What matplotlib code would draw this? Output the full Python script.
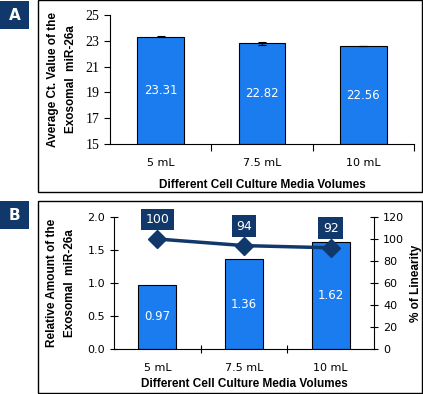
import matplotlib.pyplot as plt
from matplotlib.patches import Rectangle

volumes = ['5 mL', '7.5 mL', '10 mL']
ct_values = [23.31, 22.82, 22.56]
ct_err = [0.03, 0.12, 0.0]
rel_amount = [0.97, 1.36, 1.62]
linearity = [100, 94, 92]

blue = '#1b7cf0'
navy = '#11386a'

fig = plt.figure(figsize=(4.23, 3.94), dpi=100)
W, H = 423, 394

def px(x0, y0, x1, y1):
    # pixel box -> figure fraction rect
    return [x0 / W, 1 - y1 / H, (x1 - x0) / W, (y1 - y0) / H]

# panel frames and letter boxes
for y0, y1, letter in [(0, 192, 'A'), (201, 393, 'B')]:
    fig.patches.append(Rectangle((38 / W, 1 - y1 / H), 383.5 / W, (y1 - y0) / H,
                                 transform=fig.transFigure, fill=False,
                                 edgecolor='black', linewidth=1))
    ly0 = y0 + (1 if letter == 'A' else 0)
    fig.patches.append(Rectangle((0, 1 - (ly0 + 28) / H), 29 / W, 28 / H,
                                 transform=fig.transFigure, facecolor=navy,
                                 edgecolor='none'))
    fig.text(14.5 / W, 1 - (ly0 + 14) / H, letter, color='white', fontsize=11,
             fontweight='bold', ha='center', va='center')

label_font = dict(fontsize=8.5, fontweight='bold', family='Liberation Sans')

# ---- panel A ----
axA = fig.add_axes(px(110, 15, 414, 144))
x = range(len(volumes))
axA.bar(x, [v - 15 for v in ct_values], bottom=15, width=0.46, color=blue,
        edgecolor='black', linewidth=0.8)
axA.errorbar(x, ct_values, yerr=ct_err, fmt='none', ecolor='black',
             elinewidth=0.8, capsize=3, capthick=0.8)
for i, v in enumerate(ct_values):
    axA.text(i, (15 + v) / 2, f'{v:.2f}', color='white', ha='center',
             va='center', fontsize=8.5)
axA.set_xlim(-0.5, 2.5)
axA.set_ylim(15, 25)
axA.set_yticks([15, 17, 19, 21, 23, 25])
for lab in axA.get_yticklabels():
    lab.set_family('Liberation Serif')
    lab.set_fontsize(10)
axA.set_xticks([0.5, 1.5, 2.5])
axA.set_xticks([0, 1, 2], minor=True)
axA.set_xticklabels([])
axA.set_xticklabels(volumes, minor=True, fontsize=8)
axA.tick_params(axis='x', which='major', length=5, direction='out')
axA.tick_params(axis='x', which='minor', length=0, pad=10)
axA.tick_params(axis='y', length=4, direction='out')
for s in ['top', 'right']:
    axA.spines[s].set_visible(False)
axA.set_ylabel('Average Ct. Value of the\nExosomal  miR-26a', labelpad=6,
               linespacing=1.65, **label_font)
axA.set_xlabel('Different Cell Culture Media Volumes', labelpad=8, **label_font)

# ---- panel B ----
axB = fig.add_axes(px(114, 217, 374, 349))
axB.bar(x, rel_amount, width=0.44, color=blue, edgecolor='black',
        linewidth=0.8)
for i, v in enumerate(rel_amount):
    axB.text(i, v / 2, f'{v:.2f}', color='white', ha='center', va='center',
             fontsize=8.5)
axB.set_xlim(-0.5, 2.5)
axB.set_ylim(0, 2.0)
axB.set_yticks([0, 0.5, 1.0, 1.5, 2.0])
axB.set_yticklabels(['0.0', '0.5', '1.0', '1.5', '2.0'], fontsize=8)
axB.set_xticks([0.5, 1.5])
axB.set_xticks([0, 1, 2], minor=True)
axB.set_xticklabels([])
axB.set_xticklabels(volumes, minor=True, fontsize=8)
axB.tick_params(axis='x', which='major', length=6, direction='inout')
axB.tick_params(axis='x', which='minor', length=0, pad=10)
axB.tick_params(axis='y', length=6, direction='inout')
axB.spines['top'].set_visible(False)
axB.spines['right'].set_visible(False)
axB.set_ylabel('Relative Amount of the\nExosomal  miR-26a', labelpad=8,
               linespacing=1.65, **label_font)
axB.set_xlabel('Different Cell Culture Media Volumes', labelpad=4, **label_font)

axR = axB.twinx()
axR.plot(x, linearity, color=navy, linewidth=2.5, marker='D', markersize=9)
for i, v in enumerate(linearity):
    axR.annotate(str(v), (i, v), xytext=(0, 14), textcoords='offset points',
                 ha='center', va='center', color='white', fontsize=9,
                 bbox=dict(boxstyle='square,pad=0.35', facecolor=navy,
                           edgecolor='none'))
axR.set_ylim(0, 120)
axR.set_yticks(range(0, 121, 20))
axR.tick_params(axis='y', length=6, direction='inout', labelsize=8)
for s in ['top', 'left', 'bottom']:
    axR.spines[s].set_visible(False)
axR.set_ylabel('% of Linearity', labelpad=4, **label_font)

fig.savefig('out.png', dpi=100)
